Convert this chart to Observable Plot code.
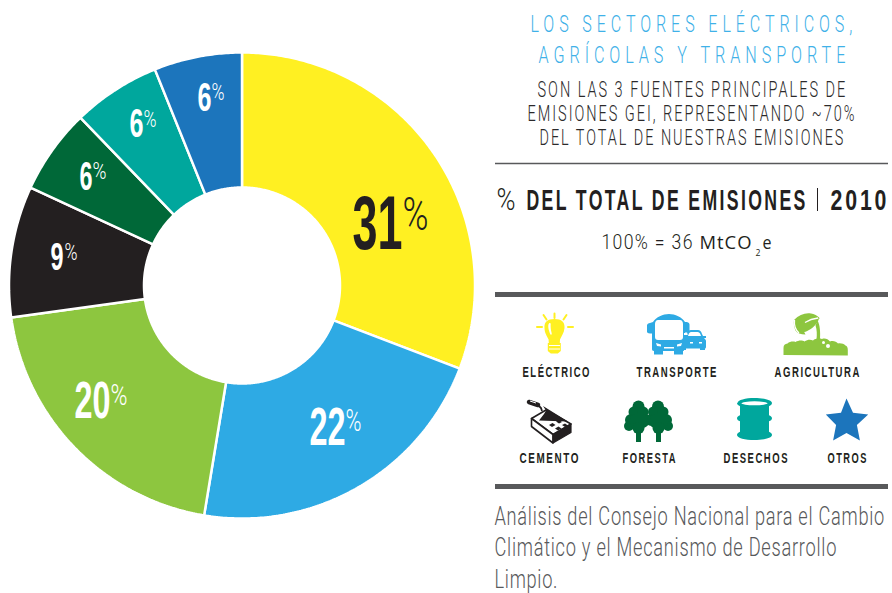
<!DOCTYPE html>
<html lang="es">
<head>
<meta charset="utf-8">
<script src="https://cdn.jsdelivr.net/npm/d3@7"></script>
<script src="https://cdn.jsdelivr.net/npm/@observablehq/plot@0.6"></script>
<style>html,body{margin:0;padding:0;background:#fff}svg{display:block}</style>
</head>
<body>
<div id="chart"></div>
<script>
// ---- chart data ----
const sectors = ["Eléctrico", "Transporte", "Agricultura", "Cemento", "Foresta", "Desechos", "Otros"];
const shares = [30.8, 21.8, 20.2, 9.1, 5.9, 6.1, 6.1];
const percentLabels = ["31", "22", "20", "9", "6", "6", "6"];
const sectorColors = ["#fff022", "#2eaae4", "#8dc63f", "#231f20", "#006838", "#00a79d", "#1c75bc"];

const headline = ["LOS SECTORES ELÉCTRICOS,", "AGRÍCOLAS Y TRANSPORTE"];
const subhead = ["SON LAS 3 FUENTES PRINCIPALES DE", "EMISIONES GEI, REPRESENTANDO ~70%", "DEL TOTAL DE NUESTRAS EMISIONES"];
const legendLabels = ["ELÉCTRICO", "TRANSPORTE", "AGRICULTURA", "CEMENTO", "FORESTA", "DESECHOS", "OTROS"];
const footnote = ["Análisis del Consejo Nacional para el Cambio", "Climático y el Mecanismo de Desarrollo", "Limpio."];

// ---- layout ----
const W = 892, H = 593;
const cx = 241.5, cy = 285, rOuter = 233, rInner = 98;
const SANS = "'Liberation Sans', sans-serif";
const LIGHT = "Roboto, 'Open Sans', sans-serif";

const ringPoints = d3.pie().sort(null).value(d => d)(shares).flatMap((arc, k) => {
  const steps = Math.ceil((arc.endAngle - arc.startAngle) / 0.01);
  const outer = d3.range(steps + 1).map(i => arc.startAngle + (arc.endAngle - arc.startAngle) * i / steps);
  const pt = (r, a) => ({sector: sectors[k], px: cx + r * Math.sin(a), py: cy - r * Math.cos(a)});
  return [...outer.map(a => pt(rOuter, a)), ...outer.slice().reverse().map(a => pt(rInner, a)), pt(rOuter, arc.startAngle)];
});

function fit(text, x, y, width, size, {fill = "#231f20", weight = 400, family = SANS, spacing = 0} = {}) {
  return Plot.text([text], {
    x: () => x, y: () => y - 0.7, text: d => d,
    textAnchor: "start", lineAnchor: "bottom",
    fontFamily: family, fontSize: size, fontWeight: weight, fill,
    render(i, s, v, d, c, next) {
      const g = next(i, s, v, d, c);
      g.querySelectorAll("text").forEach(t => {
        t.dataset.w = width;
        if (spacing) t.style.letterSpacing = spacing + "px";
      });
      return g;
    }
  });
}

// digit box and percent box of each ring label: left, baseline, width, size
const digitBoxes = [[352, 249, 50, 76], [309, 445, 36, 54], [74, 418, 36, 51], [50, 270, 13, 38], [79, 190, 13, 40], [129, 137, 14, 40], [197, 111, 14, 40]];
const percentBoxes = [[402, 230, 26, 46], [345, 431, 16, 32], [110, 405, 17, 30], [64, 260, 13, 24], [92, 179, 14, 24], [143, 127, 13, 24], [211, 100, 13, 24]];

const ringLabels = percentLabels.flatMap((label, k) => {
  const [dx, dy, dw, ds] = digitBoxes[k];
  const [px, py, pw, ps] = percentBoxes[k];
  const ink = k === 0 ? "#231f20" : "#ffffff";
  return [
    fit(label, dx, dy, dw, ds, {fill: ink, weight: 700}),
    fit("%", px, py, pw, ps, {fill: ink, weight: 300, family: LIGHT})
  ];
});

const textY = {headline: [32, 63], subhead: [97, 121, 145], foot: [525, 556, 588]};
const headlineBox = [[530, 322], [538, 307]];
const subheadBox = [[537, 308], [527, 327], [539, 304]];
const footBox = [[494, 390], [494, 342], [494, 63]];
const legendBox = [[522, 377, 67], [636, 377, 80], [774, 377, 85], [519, 463, 59], [622, 463, 53], [723, 463, 64], [827, 463, 39]];

const icons = () => {
  const g = d3.create("svg:g");
  g.html(`
  <!-- bulb -->
  <g stroke="#fff022" stroke-width="2" fill="none" stroke-linecap="round">
    <path d="M554.5 313.5v4.5M543.5 315l3 4.5M566.5 315l-3 4.5M537 327h5M568 327h5"/>
  </g>
  <path fill="#fff022" d="M554.5 319c7 0 10.500 3 10 9-.4 5-3 8-4.500 11.500l-.2 3.500h1v8l-3 2.500h-7l-3-2.500v-8h1l-.2-3.500C547 336 544.500 333 544.500 328c-.5-6 3-9 10-9z"/>
  <path fill="#fff" d="M549 323.500c-1.500 1.500-.5 7 1.500 11 1.200 1 1.500-.5 1-2-.8-3-1-6-.8-8.500 0-1-.8-1.200-1.700-.5z"/>
  <path stroke="#fff" stroke-width="1" d="M549 345.500h11M549 349h11"/>
  <!-- bus -->
  <path fill="#2eaae4" d="M653 322c3-5 10-8 16-8s13 3 16 8h1.500c1.500 0 3 1 3 2.500v6c0 1-1 2-3 2H685V349c0 1-.5 2-2 2v3.500h-9V351h-11v3.500h-9V351c-1.500 0-2-1-2-2v-15.500h-2c-2 0-3-1-3-2v-6c0-1.500 1.500-2.500 3-2.500z"/>
  <path fill="#fff" d="M658 320h22c2 0 3 2 3 4v13c0 2-1 3-3 3h-22c-2 0-3-1-3-3v-13c0-2 1-4 3-4z"/>
  <path fill="#fff" d="M656 343l5 1.500v2l-4-.5zM682 343l-5 1.500v2l4-.5zM664 347h10v1.500h-10z"/>
  <!-- car -->
  <path fill="#fff" d="M684 333h23v19h-23z"/>
  <path fill="#2eaae4" d="M691 330h7c2 0 3 1 4 4l1 2h3v2h-2c1 1 2 2 2 3v6c0 .8-.5 1.500-1 1.500V350h-5v-1.500h-14V350h-3v-15h6l-1 1-1-4c.5-1 2-2 4-2z"/>
  <path fill="#fff" d="M691 332h6.500c1.500 0 2.500 1 3 2.500l.5 1.500h-13l.5-1.500c.5-1.500 1.500-2.500 2.500-2.500zM690 342h3v1.500h-3zM699 342h3v1.500h-3z"/>
  <!-- plant -->
  <g fill="#8dc63f">
    <path d="M783.500 355v-7c0-3 1.500-4 4-4.500 2-2 6-2.500 8-1.500 3-2 7-2 9-.5 3-2 6-2 8.500-1 2-2 6-2.500 9-1.500 3-1 6 0 8 2.500 3-1 6.500 0 8 2 3-.5 6 .5 7.500 2 1.500.5 2.300 2 2.300 4.500v5.500z"/>
    <path d="M817.500 320.500c2.500 4 3 12 2.500 19h-3.500c.5-5 .5-10-1-14z"/>
    <path d="M794 320c5-5 11-7.500 17-6.500 3 .5 6.500 2 9 5-4 0-7.500 0-11.500 2l-7 3 3-.5c-1.500 4-1.500 8 1 11.500-5 0-8.500-1.500-10-4-1.500-3-2-7-1.500-10.500z"/>
    <path d="M819 318.500c-1 4-5 9-10 11.500-4 2.500-7 2.500-9 1.500-1-3-.5-7 1-9 3-3 10-5 18-4z"/>
  </g>
  <path d="M794.500 320c-.5 5 1 10 4.500 13M818 318c-4 .5-9 2-13 4.500" fill="none" stroke="#fff" stroke-width="1.300"/>
  <circle cx="823.500" cy="342.500" r="1.500" fill="#fff"/><circle cx="828" cy="346" r="2" fill="#fff"/>
  <!-- cement -->
  <path fill="#fff" stroke="#231f20" stroke-width="1.600" stroke-linejoin="round" d="M531.500 418.500L546 410l25 14-18 10.500z"/>
  <path fill="#fff" stroke="#231f20" stroke-width="1.600" stroke-linejoin="round" d="M531.500 418.500l21.500 16V443l-21.500-16.500z"/>
  <path fill="#231f20" stroke="#231f20" stroke-width="1.200" stroke-linejoin="round" d="M553 434.500L571 424v8.500L553 443z"/>
  <path fill="#231f20" d="M549 425l3.500-2 3 2-3.500 2zM555 428.500l3.500-2 3 2-3.500 2zM556 421.500l3-1.500 3 2-3 1.500zM562 425l3-1.500 3 2-3 1.500z"/>
  <path fill="#231f20" d="M543 406l25 15.500-29-1 5-6.500 2-3.500z"/>
  <path fill="none" stroke="#231f20" stroke-width="4.500" stroke-linecap="round" d="M529 402l9 3"/>
  <path fill="none" stroke="#231f20" stroke-width="1.800" d="M538 405l3 3 1 3"/>
  <path fill="none" stroke="#fff" stroke-width="1" d="M530 401l6 2"/>
  <!-- trees -->
  <g fill="#006838">
    <rect x="636" y="425" width="5" height="17"/><rect x="656" y="425" width="5" height="17"/>
    <circle cx="638.500" cy="406.500" r="6"/><circle cx="658" cy="406.500" r="6"/>
    <circle cx="634" cy="412" r="5.500"/><circle cx="643" cy="412" r="5.500"/><circle cx="653.500" cy="412" r="5.500"/><circle cx="663" cy="412" r="5.500"/>
    <circle cx="631" cy="420" r="6"/><circle cx="645.500" cy="420" r="6"/><circle cx="651.500" cy="420" r="6"/><circle cx="666" cy="420" r="6"/>
    <circle cx="629" cy="426" r="5"/><circle cx="668" cy="426" r="5"/>
    <rect x="630" y="414" width="18" height="14" rx="5"/><rect x="650" y="414" width="18" height="14" rx="5"/>
    <circle cx="638.500" cy="428" r="6"/><circle cx="658.500" cy="428" r="6"/>
  </g>
  <!-- barrel -->
  <path fill="#00a79d" d="M737.500 403c0-3 8-5 17-5s17.500 2 17.500 5c0 1.500-1.500 2.500-3 3.200v9c1.500.6 3 1.500 3 3s-1.500 2.500-3 3v10.500c2 1 3 2 3 3.200 0 3-8 5-17.500 5s-17.500-2-17.500-5c0-1.200 1-2.200 3-3.200v-10.500c-1.500-.5-3-1.500-3-3s1.500-2.400 3-3v-9c-1.500-.7-3-1.700-3-3.200z"/>
  <ellipse cx="754.500" cy="403.300" rx="13" ry="2" fill="#fff"/>
  <!-- star -->
  <path fill="#1c75bc" d="M846.500 398.500l6.500 14.300 15.200 1.800-11.300 10.500 3 15.500-13.400-7.700-13.400 7.700 3-15.500L825.800 414.600l15.200-1.800z"/>`);
  return g.node();
};

const plot = Plot.plot({
  width: W, height: H, margin: 0,
  style: {background: "#fff", overflow: "visible"},
  x: {axis: null, domain: [0, W], range: [0, W]},
  y: {axis: null, domain: [0, H], range: [0, H]},
  color: {domain: sectors, range: sectorColors},
  marks: [
    Plot.line(ringPoints, {x: "px", y: "py", fill: "sector", stroke: "#fff", strokeWidth: 2.5, strokeLinejoin: "miter", curve: "linear"}),
    ...ringLabels,
    ...headline.map((t, i) => fit(t, headlineBox[i][0], textY.headline[i], headlineBox[i][1], 23, {fill: "#3fb1e8", weight: 300, family: LIGHT, spacing: 7})),
    ...subhead.map((t, i) => fit(t, subheadBox[i][0], textY.subhead[i], subheadBox[i][1], 22, {fill: "#2b2a2b", weight: 300, family: LIGHT, spacing: 3})),
    Plot.ruleY([163], {x1: 495, x2: 888, stroke: "#58595b", strokeWidth: 1.4}),
    fit("%", 496, 210, 19, 31, {weight: 300, family: LIGHT}),
    fit("DEL TOTAL DE EMISIONES", 526, 210, 279, 30, {weight: 700, spacing: 4}),
    Plot.ruleX([817], {y1: 188, y2: 211, stroke: "#231f20", strokeWidth: 1}),
    fit("2010", 830, 210, 56, 30, {weight: 700, spacing: 4}),
    fit("100% = 36", 601, 249, 91, 20, {weight: 300, family: LIGHT, spacing: 1.5}),
    fit("MtCO", 699, 249, 52, 19, {family: "'Open Sans', sans-serif", spacing: 1}),
    fit("2", 755, 256, 5, 9, {family: "'Open Sans', sans-serif"}),
    fit("e", 762, 249, 9, 19, {family: "'Open Sans', sans-serif"}),
    Plot.ruleY([294], {x1: 495, x2: 888, stroke: "#58595b", strokeWidth: 5}),
    icons,
    ...legendLabels.map((t, i) => fit(t, legendBox[i][0], legendBox[i][1], legendBox[i][2], 15.5, {weight: 700, spacing: 2.5})),
    Plot.ruleY([486], {x1: 495, x2: 888, stroke: "#58595b", strokeWidth: 5}),
    ...footnote.map((t, i) => fit(t, footBox[i][0], textY.foot[i], footBox[i][1], 25, {fill: "#58595b", weight: 300, family: LIGHT, spacing: 1}))
  ]
});
document.getElementById("chart").append(plot);

// narrow each text to the width it occupies, as the condensed type of the original does
plot.querySelectorAll("text[data-w]").forEach(t => {
  const w = t.getComputedTextLength();
  const ls = parseFloat(t.style.letterSpacing) || 0;
  const k = +t.dataset.w / Math.max(1, w - ls);
  const base = t.getAttribute("transform") || "";
  t.setAttribute("transform", base + ` scale(${k.toFixed(4)},1)`);
});
</script>
</body>
</html>
